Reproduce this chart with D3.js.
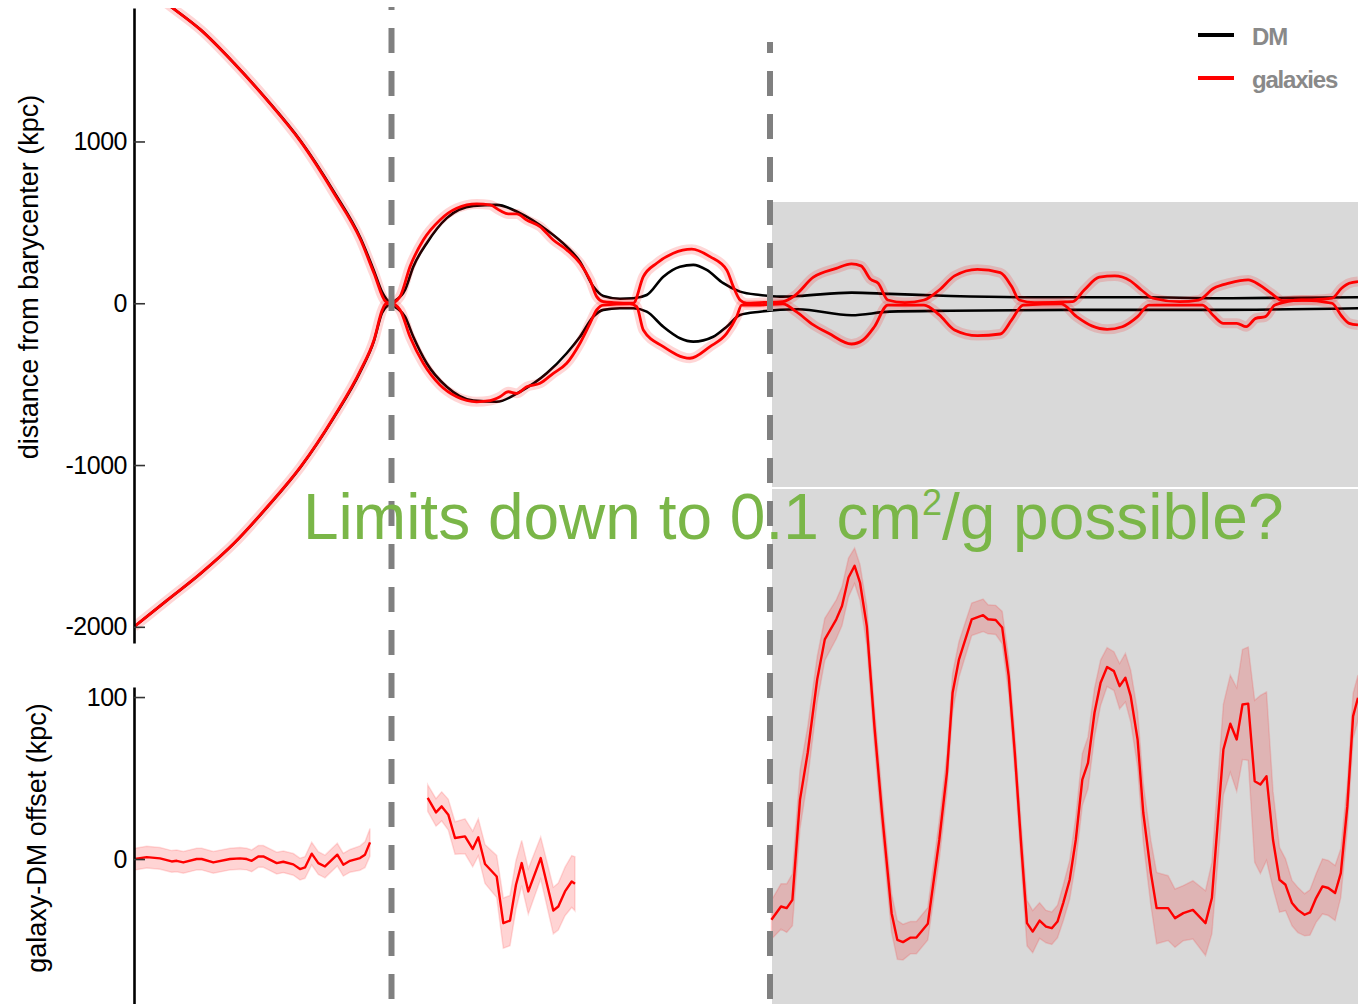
<!DOCTYPE html>
<html>
<head>
<meta charset="utf-8">
<script src="https://cdn.jsdelivr.net/npm/d3@7"></script>
<style>
  body { margin: 0; background: #fff; }
  svg { display: block; font-family: "Liberation Sans", Arial, sans-serif; }
</style>
</head>
<body>
<svg id="chart" width="1358" height="1004"></svg>
<script>
// time in Myr since start of run, distances in kpc
var galUpper = [[0,2000],[36.7,1834],[66.7,1690],[100,1484],[133.3,1254],[166.7,999],[200,680],[226.7,391],[240,186],[251.7,10],[256.7,0],
  [266,41],[276,226],[289.3,391],[306,515],[322.7,587],[342.7,614],[356,608],[366,573],[374.3,552],[382.7,552],[392.7,515],[406,474],[419.3,391],[432.7,330],[446,247],[456,144],[462.7,41],[469.3,10],[479.3,4],[499.3,0],
  [509.3,164],[522.7,247],[539.3,309],[557.7,334],[576,288],[592.7,206],[599.3,103],[606,20],[612.7,0],
  [626,4],[648.9,10],[660.3,45],[679.4,161],[702.3,216],[717.5,243],[727,231],[736.6,148],[744.2,124],[753.8,20],[770.9,4],[790,20],[805.3,82],[820.5,169],[843.4,210],[866.3,189],[877.7,103],[885.3,20],[900.6,4],[938.7,10],[950.2,82],[965.4,161],[980.7,169],[996,140],[1007.4,82],[1018.8,31],[1045.5,10],[1064.6,20],[1079.8,93],[1095.1,124],[1114.2,144],[1125.6,113],[1137.1,62],[1148.5,16],[1175.2,20],[1198,31],[1207.6,93],[1215.2,124],[1224,134]];
var galLower = [[0,-2000],[33.3,-1835],[66.7,-1670],[100,-1484],[133.3,-1258],[166.7,-1010],[200,-701],[226.7,-412],[240,-227],[248.3,-41],[251.7,-4],[256.7,0],
  [266,-41],[276,-207],[289.3,-371],[306,-505],[322.7,-578],[342.7,-609],[356,-602],[366,-578],[374.3,-547],[382.7,-557],[392.7,-516],[406,-495],[419.3,-433],[432.7,-371],[446,-247],[456,-124],[462.7,-41],[469.3,-11],[496,-4],
  [502.7,-21],[509.3,-165],[529.3,-268],[556,-340],[576,-268],[592.7,-186],[602.7,-83],[607.7,-11],
  [626,-11],[648.9,-4],[662.2,-52],[679.4,-134],[694.6,-186],[717.5,-252],[729,-227],[740.4,-145],[753.8,-11],[790,-11],[805.3,-72],[820.5,-165],[843.4,-200],[866.3,-190],[877.7,-103],[889.2,-11],[927.3,-4],[942.6,-83],[957.8,-140],[973.1,-161],[988.3,-145],[1003.6,-83],[1015,-11],[1068.4,-11],[1079.8,-79],[1089.4,-124],[1102.7,-124],[1112.3,-145],[1121.8,-93],[1131.4,-83],[1140.9,-11],[1167.6,20],[1198,0],[1207.6,-79],[1215.2,-124],[1224,-134]];
var dmUpper = [[0,2000],[36.7,1834],[66.7,1690],[100,1484],[133.3,1256],[166.7,1003],[200,688],[226.7,400],[240,200],[248,70],[254,15],[257.5,3],
  [261,15],[271,82],[279.3,226],[292.7,371],[312.7,526],[339.3,602],[362.7,608],[386,557],[412.7,453],[432.7,350],[446,257],[459.3,103],[469.3,45],[486,28],[499.3,31],[512.7,51],[529.3,164],[546,226],[559.3,237],[572.7,206],[589.3,124],[606,72],[626,51],[646,41],[664,45],[717.5,66],[755.7,58],[816.7,45],[893,37],[1007.4,37],[1083.7,31],[1224,37]];
var dmLower = [[0,-2000],[33.3,-1835],[66.7,-1670],[100,-1484],[133.3,-1260],[166.7,-1012],[200,-705],[226.7,-418],[240,-232],[248,-60],[254,-12],[257.5,-3],
  [261,-21],[271,-83],[279.3,-207],[292.7,-371],[312.7,-516],[339.3,-602],[362.7,-609],[386,-547],[412.7,-433],[432.7,-309],[446,-207],[459.3,-83],[469.3,-41],[486,-31],[499.3,-31],[512.7,-52],[529.3,-145],[546,-216],[559.3,-237],[579.3,-207],[592.7,-145],[606,-72],[626,-52],[664,-37],[717.5,-74],[755.7,-52],[816.7,-46],[931,-41],[1083.7,-41],[1224,-31]];

// galaxy-DM offset: [time, offset, error]
var offsetA = [[1,0,6.7],[12.7,1.2,6.7],[26,0.4,6.7],[37.7,-1.5,6.7],[42.7,-1.1,6.7],[49.3,-2.1,6.7],[62.7,0,6.7],[67.7,0,6.7],[79.3,-2.1,6.7],[96,0,6.7],[106,0.4,6.7],[112.7,0,6.7],[117.7,-1.1,6.7],[124.3,1.6,6.7],[129.3,1.6,6.7],[142.7,-2.5,6.7],[149.3,-1.7,6.7],[159.3,-3.3,6.7],[166,-6.2,6.7],[171,-5.2,6.7],[177.7,3.3,7],[184.3,-2.5,7],[191,-4.6,7],[203.3,2.7,7],[209.3,-3.5,7],[216,-1.1,7],[226,0.6,7.5],[231,2.7,8],[236,10.3,8.5]];
var offsetB = [[293.7,37.7,8.2],[302,28.8,8.5],[307.7,32.5,9],[314.3,27.4,9.5],[321,13,10],[331,14,10.8],[338.7,6.2,11],[344.3,13.4,11.5],[351,-3.1,12],[362.7,-10.8,13],[369.3,-39.6,15.5],[376,-38,15.5],[382,-15.9,15],[387.7,-2.5,14],[394.3,-20,14],[406.7,0.6,13],[419.3,-31.8,14.4],[424.3,-29.3,14.5],[431,-20,15],[437.7,-13.9,16],[441,-15.3,16.7]];
var offsetC = [[637.4,-37.5,12],[647,-29.3,14],[652.7,-30.3,15],[658.4,-25.2,16],[666,36.7,18],[673.7,65.6,16],[683.2,110.9,14],[690.8,135.6,13],[702.3,148,12],[708,156.2,12],[714.5,173.8,12],[720.6,181,11],[726,170.7,11],[732.8,143.8,12],[740.4,82,12],[748,28.4,12],[757.6,-33.4,12],[763.3,-49.9,12],[769,-51.3,11],[776.6,-48.5,10],[782.4,-48.5,10],[793.8,-40,10],
  [805.3,11.9,12],[812.9,53.2,12],[818.6,102.7,12],[825,123.3,11],[837.7,148,10],[849.1,150.5,10],[854,148,9],[861.7,147.6,9],[868.2,142.9,10],[874.7,112.9,11],[880.8,65.6,12],[887.3,7.8,13],[893,-39.6,14],[898.7,-44.8,13],[905.6,-38,11],[912,-41.7,10],[917.8,-42.7,10],[923.5,-38.6,10],[929.2,-27.2,11],[935.7,-12.8,12],
  [941.8,11.9,14],[948.3,49,16],[954,59.4,16],[960.5,90.3,15],[966.6,108.8,14],[973.1,118.5,12],[979.9,116,12],[985.6,106.7,14],[991.4,111.9,15],[996.7,100.6,16],[1003.6,73.8,17],[1009.3,28.4,18],[1016.9,-8.7,20],[1022.6,-30.3,22],[1034.1,-30.3,20],[1041,-36.5,18],[1049.3,-33.4,17],[1058.9,-31.4,18],[1071.5,-39.6,20],[1077.9,-24.1,22],
  [1083.7,22.3,25],[1089.4,67.6,28],[1096.3,83.5,30],[1102.7,73.8,32],[1108.5,95.4,34],[1114.2,95.9,35],[1120.7,48,50],[1126.4,46,55],[1132.5,51.1,52],[1139,11.9,30],[1145.5,-12.8,20],[1151.5,-15.9,16],[1158,-27.2,14],[1163.8,-31.4,14],[1170.6,-34.4,13],[1176,-33,14],[1182.1,-24.1,15],[1188.5,-16.9,17],[1194.3,-17.9,17],[1201.1,-21,17],[1206.8,-8.7,15],[1213.3,32.5,14],[1219.1,88.2,14],[1224,99.6,14]];

var topTicks = [-2000, -1000, 0, 1000];
var botTicks = [0, 100];
var passages = [257.5, 636];   // pericentre passages (dashed markers)
var legendItems = [{name: "DM", color: "#000"}, {name: "galaxies", color: "#ff0000"}];

var svg = d3.select("#chart");
var x = d3.scaleLinear().domain([0, 1224]).range([134, 1358]);
var yTop = d3.scaleLinear().domain([-2100, 1825]).range([643, 8]);
var yBot = d3.scaleLinear().domain([-89.5, 106.2]).range([1004, 687]);

// grey "future" boxes
svg.append("rect").attr("x", 772).attr("y", 202).attr("width", 586).attr("height", 285).attr("fill", "#d9d9d9");
svg.append("rect").attr("x", 772).attr("y", 489).attr("width", 586).attr("height", 515).attr("fill", "#d9d9d9");

svg.append("clipPath").attr("id", "clipTop")
  .append("rect").attr("x", 134).attr("y", 8).attr("width", 1224).attr("height", 636);

var gTop = svg.append("g").attr("clip-path", "url(#clipTop)");
var lineTop = d3.line().x(function(d){ return x(d[0]); }).y(function(d){ return yTop(d[1]); }).curve(d3.curveMonotoneX);

[dmUpper, dmLower].forEach(function(s){
  gTop.append("path").datum(s).attr("d", lineTop)
    .attr("fill", "none").attr("stroke", "#000").attr("stroke-width", 2.6);
});
[galUpper, galLower].forEach(function(s){
  gTop.append("path").datum(s).attr("d", lineTop)
    .attr("fill", "none").attr("stroke", "rgba(255,0,0,0.16)").attr("stroke-width", 10)
    .attr("stroke-linejoin", "round");
});
[galUpper, galLower].forEach(function(s){
  gTop.append("path").datum(s).attr("d", lineTop)
    .attr("fill", "none").attr("stroke", "#ff0000").attr("stroke-width", 2.8);
});

// offset panel
var band = d3.area().x(function(d){ return x(d[0]); })
  .y0(function(d){ return yBot(d[1] - d[2]); })
  .y1(function(d){ return yBot(d[1] + d[2]); });
var lineBot = d3.line().x(function(d){ return x(d[0]); }).y(function(d){ return yBot(d[1]); });

[offsetA, offsetB, offsetC].forEach(function(s){
  svg.append("path").datum(s).attr("d", band)
    .attr("fill", "rgba(255,0,0,0.17)").attr("stroke", "rgba(255,0,0,0.13)").attr("stroke-width", 1.5);
  svg.append("path").datum(s).attr("d", lineBot)
    .attr("fill", "none").attr("stroke", "#ff0000").attr("stroke-width", 2.4).attr("stroke-linejoin", "round");
});

// axes
function styleAxis(g){
  g.select(".domain").attr("stroke", "#000").attr("stroke-width", 2.6);
  g.selectAll(".tick line").attr("stroke", "#333").attr("stroke-width", 1.6);
  g.selectAll(".tick text").attr("fill", "#000").attr("font-size", 25)
    .attr("font-family", "'Liberation Sans', Arial, sans-serif").attr("letter-spacing", -0.5);
}
var axTop = d3.axisLeft(yTop).tickValues(topTicks).tickSize(-11).tickSizeOuter(0).tickPadding(7)
  .tickFormat(function(d){ return String(d); });
svg.append("g").attr("transform", "translate(134,0)").call(axTop).call(styleAxis);
var axBot = d3.axisLeft(yBot).tickValues(botTicks).tickSize(-11).tickSizeOuter(0).tickPadding(7)
  .tickFormat(function(d){ return String(d); });
svg.append("g").attr("transform", "translate(134,0)").call(axBot).call(styleAxis);

svg.append("text").attr("transform", "translate(38,277) rotate(-90)")
  .attr("text-anchor", "middle").attr("font-size", 27).attr("fill", "#000")
  .text("distance from barycenter (kpc)");
svg.append("text").attr("transform", "translate(46,838) rotate(-90)")
  .attr("text-anchor", "middle").attr("font-size", 27).attr("fill", "#000")
  .text("galaxy-DM offset (kpc)");

// dashed passage markers (same dash phase on both)
var dashTop = [7, 42];
passages.forEach(function(t, i){
  svg.append("line").attr("x1", x(t)).attr("x2", x(t)).attr("y1", dashTop[i]).attr("y2", 1004)
    .attr("stroke", "#808080").attr("stroke-width", 6)
    .attr("stroke-dasharray", "25,18").attr("stroke-dashoffset", 22 + (dashTop[i] - dashTop[0]));
});

// legend
var leg = svg.append("g");
legendItems.forEach(function(d, i){
  var yy = 35 + i * 43;
  leg.append("line").attr("x1", 1198).attr("x2", 1234).attr("y1", yy).attr("y2", yy)
    .attr("stroke", d.color).attr("stroke-width", 4);
  leg.append("text").attr("x", 1252).attr("y", yy + 10).attr("font-size", 24).attr("font-weight", "bold")
    .attr("letter-spacing", -1.2).attr("fill", "#898989").text(d.name);
});

// annotation
var note = svg.append("text").attr("x", 303).attr("y", 539).attr("font-size", 64).attr("fill", "#7ab648");
note.append("tspan").text("Limits down to 0.1 cm");
note.append("tspan").attr("font-size", 36).attr("dy", -24).text("2");
note.append("tspan").attr("dy", 24).text("/g possible?");
</script>
</body>
</html>
